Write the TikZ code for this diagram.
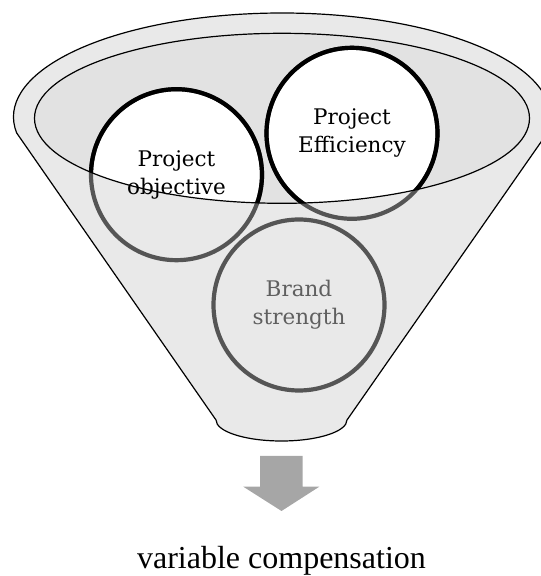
\documentclass[tikz,border=0pt]{standalone}
\usepackage{fontspec}
\newfontfamily\capfont{Liberation Serif}
\newfontfamily\bubblefont{DejaVu Serif}
\usetikzlibrary{positioning}
\definecolor{funnel}{RGB}{233,233,233}
\definecolor{opening}{RGB}{226,226,226}
\definecolor{ring}{RGB}{85,85,85}
\definecolor{shade}{RGB}{95,95,95}
\definecolor{arrowgray}{RGB}{166,166,166}
\pgfdeclarelayer{background}
\pgfdeclarelayer{foreground}
\pgfsetlayers{background,main,foreground}

\begin{document}
\begin{tikzpicture}[x=1pt, y=1pt,
		bubble/.style={circle, draw=ring, line width=4.2pt, minimum size=171pt, inner sep=0pt, align=center, font=\bubblefont\fontsize{21.5}{28}\selectfont},
		outline/.style={draw=black, line width=1.2pt},
		rim/.style={draw=black, line width=4.2pt}
	]
		\useasboundingbox (0,0) rectangle (541,576);
		\coordinate (mouth) at (282,457.7);

		\node[bubble] (obj) at (176.5,401.3) {Project\\objective};
		\node[bubble] (eff) at (352,442.7) {Project\\Efficiency};
		\node[bubble, text=shade] (brand) at (299,271) {Brand\\strength};
		\node[font=\capfont\fontsize{32}{38}\selectfont, anchor=base] (result) at (281.5,8) {variable compensation};

		% block arrow under the funnel
		\fill[arrowgray] (260,120) -- (302.7,120) -- (302.7,89.3) -- (319.3,89.3) -- (281.5,65) -- (243.3,89.3) -- (260,89.3) -- cycle;

		\begin{pgfonlayer}{background}
			\filldraw[fill=funnel, outline] (16.7,443) arc[start angle=188.85, end angle=-8.85, x radius=268.5, y radius=104] -- (347,156) arc[start angle=0, end angle=-180, x radius=65.5, y radius=21] -- cycle;
			\fill[opening] (mouth) ellipse[x radius=247.5, y radius=85];
			\begin{scope}
				\clip (mouth) ellipse[x radius=247.5, y radius=85];
				\fill[white] (obj.center) circle[radius=85.5pt];
				\fill[white] (eff.center) circle[radius=85.5pt];
			\end{scope}
		\end{pgfonlayer}

		\begin{pgfonlayer}{foreground}
			\begin{scope}
				\clip (mouth) ellipse[x radius=247.5, y radius=85];
				\draw[rim] (obj.center) circle[radius=85.5pt];
				\draw[rim] (eff.center) circle[radius=85.5pt];
			\end{scope}
			\draw[outline] (mouth) ellipse[x radius=247.5, y radius=85];
		\end{pgfonlayer}
	\end{tikzpicture}
\end{document}
